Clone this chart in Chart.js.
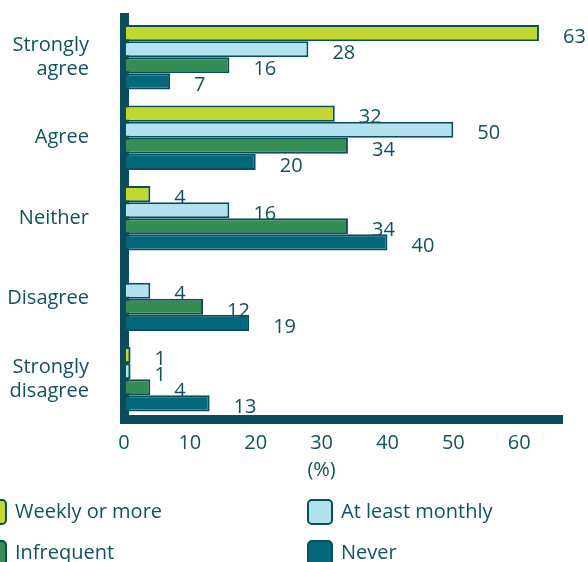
<!DOCTYPE html>
<html>
<head>
<meta charset="utf-8">
<script src="https://cdn.jsdelivr.net/npm/chart.js@4.4.1/dist/chart.umd.min.js"></script>
<style>
  html, body { margin: 0; padding: 0; background: #ffffff; }
  #wrap { width: 588px; height: 562px; position: relative; }
</style>
</head>
<body>
<div id="wrap"><canvas id="c" width="588" height="562"></canvas></div>
<script>
const categories = [['Strongly', 'agree'], 'Agree', 'Neither', 'Disagree', ['Strongly', 'disagree']];
const seriesNames = ['Weekly or more', 'At least monthly', 'Infrequent', 'Never'];
const weekly = [63, 32, 4, 0, 1];
const monthly = [28, 50, 16, 4, 1];
const infrequent = [16, 34, 34, 12, 4];
const never = [7, 20, 40, 19, 13];
const xTicks = [0, 10, 20, 30, 40, 50, 60];
const axisTitle = '(%)';

const seriesColors = ['#c2d82f', '#b2e2ee', '#358d53', '#04687c'];
const edge = '#0a4e5c';
const textColor = '#0f5363';
const FONT = '"Open Sans", Lato, sans-serif';
const FS = 20;

const datasets = [weekly, monthly, infrequent, never].map((vals, i) => ({
  label: seriesNames[i],
  data: vals,
  backgroundColor: seriesColors[i],
  borderColor: edge,
  borderWidth: 2,
  borderSkipped: false,
  categoryPercentage: 0.8,
  barPercentage: 1.0
}));

const extras = {
  id: 'extras',
  afterDatasetsDraw(chart) {
    const ctx = chart.ctx;
    ctx.save();
    ctx.fillStyle = textColor;
    ctx.font = FS + 'px ' + FONT;
    ctx.textAlign = 'left';
    ctx.textBaseline = 'middle';
    chart.data.datasets.forEach((ds, di) => {
      const meta = chart.getDatasetMeta(di);
      meta.data.forEach((bar, i) => {
        const v = ds.data[i];
        if (!v) return;
        ctx.fillText(String(v), bar.x + 24, bar.y + 4);
      });
    });
    ctx.restore();
  },
  afterDraw(chart) {
    const ctx = chart.ctx;
    const xs = chart.scales.x;
    ctx.save();
    ctx.fillStyle = textColor;
    ctx.font = FS + 'px ' + FONT;
    ctx.textAlign = 'center';
    ctx.textBaseline = 'middle';
    const cx = (xs.getPixelForValue(xTicks[0]) + xs.getPixelForValue(xTicks[xTicks.length - 1])) / 2;
    ctx.fillText(axisTitle, cx, 470);

    // legend (2 columns)
    const cols = [-19, 307];
    const rows = [499, 540];
    chart.data.datasets.forEach((ds, i) => {
      const bx = cols[i % 2];
      const by = rows[Math.floor(i / 2)];
      ctx.beginPath();
      ctx.roundRect(bx + 1, by + 1, 24, 24, 4);
      ctx.fillStyle = ds.backgroundColor;
      ctx.fill();
      ctx.lineWidth = 2;
      ctx.strokeStyle = edge;
      ctx.stroke();
      ctx.fillStyle = textColor;
      ctx.textAlign = 'left';
      ctx.fillText(ds.label, bx + 34, by + 13.5);
    });
    ctx.restore();
  }
};

new Chart(document.getElementById('c'), {
  type: 'bar',
  data: { labels: categories, datasets },
  plugins: [extras],
  options: {
    indexAxis: 'y',
    responsive: false,
    animation: false,
    devicePixelRatio: 1,
    layout: { padding: { top: 17, right: 26, left: 0, bottom: 72.5 } },
    plugins: { legend: { display: false }, tooltip: { enabled: false } },
    scales: {
      x: {
        min: 0,
        max: 66.5,
        afterBuildTicks: s => { s.ticks = xTicks.map(v => ({ value: v })); },
        afterFit: s => { s.height = 70; s.paddingLeft = 0; s.paddingRight = 0; },
        grid: { display: false, drawTicks: false },
        border: { display: true, color: edge, width: 9 },
        ticks: { color: textColor, font: { family: FONT, size: FS }, padding: 12, maxRotation: 0 }
      },
      y: {
        afterFit: s => { s.width = 124; s.paddingTop = 0; s.paddingBottom = 0; },
        grid: { display: false, drawTicks: false },
        border: { display: true, color: edge, width: 9 },
        ticks: { color: textColor, font: { family: FONT, size: FS, lineHeight: 1.2 }, padding: 35 }
      }
    }
  }
});
</script>
</body>
</html>
